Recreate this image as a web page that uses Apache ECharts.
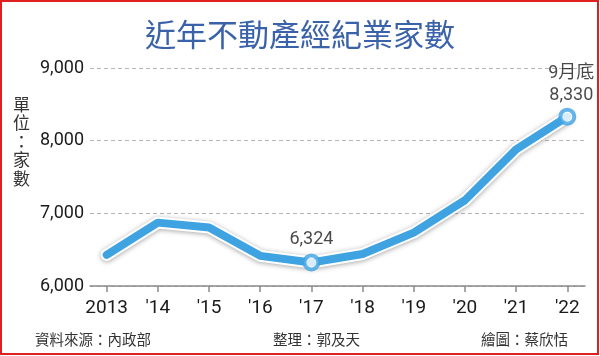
<!DOCTYPE html>
<html>
<head>
<meta charset="utf-8">
<script src="https://cdn.jsdelivr.net/npm/echarts@6/dist/echarts.min.js"></script>
<style>html,body{margin:0;padding:0;background:#fff}#c{width:600px;height:356px}</style>
</head>
<body>
<div id="c"></div>
<script>
var years = [2013, 2014, 2015, 2016, 2017, 2018, 2019, 2020, 2021, 2022];
var yearLabels = ['2013', "'14", "'15", "'16", "'17", "'18", "'19", "'20", "'21", "'22"];
var counts = [6428, 6872, 6806, 6415, 6324, 6440, 6735, 7180, 7880, 8330];
var yTicks = [6000, 7000, 8000, 9000];
var highlightYears = [2017, 2022];
var highlightLabels = {2017: '6,324', 2022: '9月底\n8,330'};

var pts = years.map(function (y, i) { return [y, counts[i]]; });
var hlPts = pts.filter(function (p) { return highlightYears.indexOf(p[0]) >= 0; }).map(function (p) {
  return {value: p, label: {offset: p[0] === 2022 ? [4, 2] : [0, 0]}};
});
var font = 'Roboto, "Noto Sans CJK TC", sans-serif';
var cjk = '"Noto Sans CJK TC", sans-serif';
var blue = '#3fa3e2';

var chart = echarts.init(document.getElementById('c'));
chart.setOption({
  animation: false,
  backgroundColor: '#fff',
  title: {
    text: '近年不動產經紀業家數', left: 'center', top: 14,
    textStyle: {fontFamily: cjk, fontSize: 31, fontWeight: 'normal', color: '#3a62a8'}
  },
  grid: {left: 90, right: 15, top: 68, bottom: 70},
  xAxis: {
    type: 'value', min: 2012.674, max: 2022.346,
    splitLine: {show: false},
    axisLine: {show: true, lineStyle: {color: '#8a8a8a', width: 1.5}},
    axisTick: {show: true, customValues: years, length: 6, lineStyle: {color: '#8a8a8a', width: 1.5}},
    axisLabel: {
      customValues: years, margin: 13,
      formatter: function (v) { return yearLabels[years.indexOf(Math.round(v))]; },
      fontFamily: font, fontSize: 19, color: '#1a1a1a'
    }
  },
  yAxis: {
    type: 'value', min: yTicks[0], max: yTicks[yTicks.length - 1], interval: 1000,
    axisLine: {show: false}, axisTick: {show: false},
    splitLine: {show: true, lineStyle: {color: '#b5b5b5', type: [4, 3], width: 1}},
    axisLabel: {
      fontFamily: font, fontSize: 18, color: '#1a1a1a', margin: 6,
      formatter: function (v) { return v.toLocaleString('en-US'); }
    }
  },
  graphic: [
    {type: 'rect', shape: {x: 1, y: 1, width: 597, height: 353}, style: {fill: 'none', stroke: '#e02020', lineWidth: 2}},
    {type: 'text', left: 13, top: 95, style: {text: '單\n位\n：\n家\n數', fontFamily: cjk, fontSize: 17, lineHeight: 18.5, fill: '#333'}},
    {type: 'text', left: 35, top: 332, style: {text: '資料來源：內政部', fontFamily: cjk, fontSize: 14.5, fill: '#333'}},
    {type: 'text', left: 273, top: 332, style: {text: '整理：郭及天', fontFamily: cjk, fontSize: 14.5, fill: '#333'}},
    {type: 'text', left: 481, top: 332, style: {text: '繪圖：蔡欣恬', fontFamily: cjk, fontSize: 14.5, fill: '#333'}}
  ],
  series: [
    {
      type: 'line', data: pts, symbol: 'none', silent: true, z: 2,
      lineStyle: {color: '#ffffff', width: 12, cap: 'round', join: 'round',
        shadowColor: 'rgba(0,0,0,0.35)', shadowBlur: 5, shadowOffsetY: 1}
    },
    {
      type: 'line', data: pts, symbol: 'none', silent: true, z: 3,
      lineStyle: {color: blue, width: 8, cap: 'round', join: 'round'}
    },
    {
      type: 'scatter', data: hlPts, z: 4, symbol: 'circle', symbolSize: 14,
      itemStyle: {color: '#ffffff', borderColor: blue, borderWidth: 4},
      label: {
        show: true, position: 'top', distance: 3,
        formatter: function (p) { return highlightLabels[p.value[0]]; },
        fontFamily: font, fontSize: 18, lineHeight: 22, color: '#1a1a1a', align: 'center'
      }
    }
  ]
});
</script>
</body>
</html>
